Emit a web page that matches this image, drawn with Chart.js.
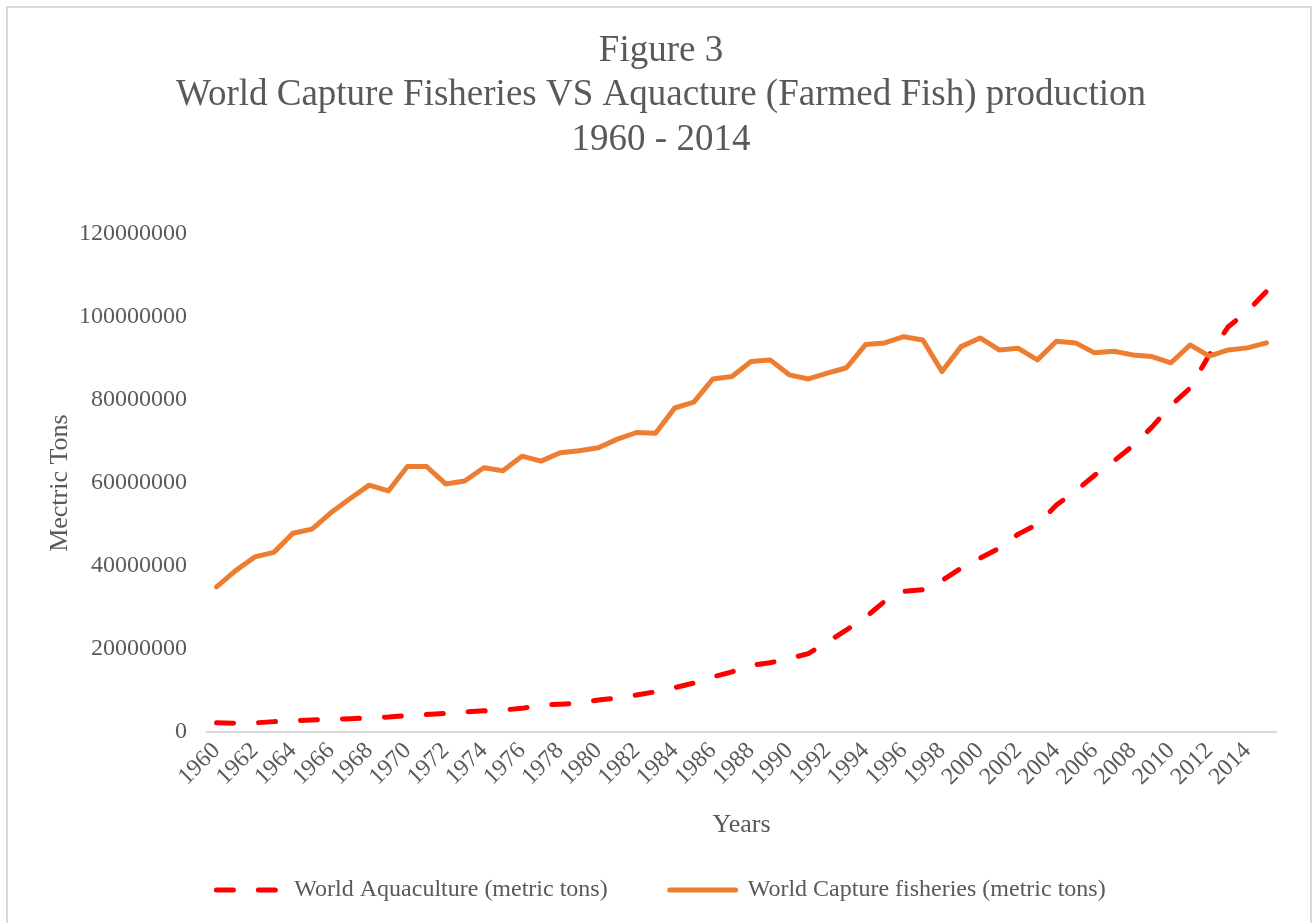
<!DOCTYPE html>
<html>
<head>
<meta charset="utf-8">
<title>World Capture Fisheries VS Aquacture</title>
<script src="https://cdn.jsdelivr.net/npm/chart.js@4.4.1/dist/chart.umd.min.js"></script>
<style>
  html, body { margin: 0; padding: 0; background: #fff; }
  #wrap { width: 1313px; height: 923px; position: relative; }
</style>
</head>
<body>
<div id="wrap"><canvas id="fishChart" width="1313" height="923"></canvas></div>
<script>
// === Datos ===
const years = ['1960','1961','1962','1963','1964','1965','1966','1967','1968','1969',
  '1970','1971','1972','1973','1974','1975','1976','1977','1978','1979',
  '1980','1981','1982','1983','1984','1985','1986','1987','1988','1989',
  '1990','1991','1992','1993','1994','1995','1996','1997','1998','1999',
  '2000','2001','2002','2003','2004','2005','2006','2007','2008','2009',
  '2010','2011','2012','2013','2014','2015'];

const aquaculture = [2200000, 2100000, 2200000, 2500000, 2700000, 2900000, 3100000, 3200000, 3400000, 3600000,
  4000000, 4200000, 4500000, 4800000, 5100000, 5300000, 5700000, 6500000, 6700000, 7000000,
  7700000, 8200000, 8900000, 9700000, 10700000, 11800000, 13300000, 14500000, 16100000, 16700000,
  17700000, 18900000, 21700000, 24600000, 27700000, 31500000, 33900000, 34300000, 36500000, 39500000,
  41900000, 44300000, 47700000, 50100000, 54700000, 58100000, 61900000, 65300000, 69000000, 73500000,
  78700000, 82900000, 90900000, 97700000, 101400000, 106200000];

const capture = [35000000, 38900000, 42200000, 43300000, 47900000, 48900000, 52900000, 56300000, 59500000, 58100000,
  64000000, 64000000, 59800000, 60500000, 63700000, 63000000, 66500000, 65300000, 67300000, 67800000,
  68500000, 70600000, 72200000, 72000000, 78100000, 79500000, 85100000, 85700000, 89300000, 89700000,
  86100000, 85100000, 86500000, 87800000, 93400000, 93800000, 95300000, 94500000, 86900000, 92900000,
  95000000, 92100000, 92500000, 89700000, 94200000, 93800000, 91400000, 91800000, 90900000, 90500000,
  89000000, 93300000, 90600000, 92100000, 92600000, 93800000];

const yTicks = [0, 20000000, 40000000, 60000000, 80000000, 100000000, 120000000];

const titleLines = ['Figure 3', 'World Capture Fisheries VS Aquacture (Farmed Fish) production', '1960 - 2014'];

const serif = "'Liberation Serif', 'Times New Roman', serif";
const grey = '#595959';

// === Marco del gráfico ===
const frame = {
  id: 'frame',
  beforeDraw(chart) {
    const c = chart.ctx;
    c.save();
    c.fillStyle = '#fff';
    c.fillRect(0, 0, chart.width, chart.height);
    c.strokeStyle = '#d9d9d9';
    c.lineWidth = 2;
    c.strokeRect(7, 7, 1304, 1000);
    c.restore();
  }
};

const ctx = document.getElementById('fishChart').getContext('2d');

new Chart(ctx, {
  type: 'line',
  data: {
    labels: years,
    datasets: [{
      label: 'World Aquaculture (metric tons)',
      data: aquaculture,
      borderColor: '#ff0000',
      backgroundColor: '#ff0000',
      borderWidth: 5,
      borderDash: [17, 25],
      borderCapStyle: 'round',
      borderJoinStyle: 'round',
      pointRadius: 0,
      tension: 0,
      order: 1
    }, {
      label: 'World Capture fisheries (metric tons)',
      data: capture,
      borderColor: '#ed7d31',
      backgroundColor: '#ed7d31',
      borderWidth: 5,
      borderCapStyle: 'round',
      borderJoinStyle: 'round',
      pointRadius: 0,
      tension: 0,
      order: 0
    }]
  },
  options: {
    responsive: false,
    animation: false,
    layout: { padding: { left: 46, right: 37, top: 0, bottom: 11 } },
    plugins: {
      title: {
        display: true,
        text: titleLines,
        color: grey,
        font: { family: serif, size: 37, weight: 'normal', lineHeight: 1.2 },
        padding: { top: 29, bottom: 72 }
      },
      legend: {
        position: 'bottom',
        labels: {
          color: grey,
          font: { family: serif, size: 24 },
          usePointStyle: true,
          pointStyle: 'line',
          pointStyleWidth: 66,
          boxHeight: 24,
          padding: 62,
          sort: (a, b) => a.datasetIndex - b.datasetIndex,
          // la muestra de línea usa el trazo del dataset (guiones incluidos)
          generateLabels: chart => Chart.defaults.plugins.legend.labels.generateLabels(chart).map(item => {
            const ds = chart.data.datasets[item.datasetIndex];
            item.lineDash = ds.borderDash || [];
            item.lineCap = 'round';
            item.lineWidth = 5;
            item.strokeStyle = ds.borderColor;
            return item;
          })
        }
      },
      tooltip: { enabled: false }
    },
    scales: {
      x: {
        offset: true,
        grid: { display: false, drawTicks: false },
        border: { display: true, color: '#d9d9d9', width: 2 },
        ticks: {
          color: grey,
          font: { family: serif, size: 24 },
          autoSkip: false,
          maxRotation: 45,
          minRotation: 45,
          padding: 5,
          callback: (v, i) => (i % 2 === 0 ? years[i] : '')
        },
        title: {
          display: true,
          text: 'Years',
          color: grey,
          font: { family: serif, size: 26 },
          padding: { top: 0, bottom: -25 }
        },
        afterFit: s => { s.height = 84; }
      },
      y: {
        min: 0,
        max: 120000000,
        grid: { display: false, drawTicks: false },
        border: { display: false },
        afterBuildTicks: s => { s.ticks = yTicks.map(v => ({ value: v })); },
        ticks: {
          color: grey,
          font: { family: serif, size: 24 },
          padding: 20,
          callback: v => String(v)
        },
        title: {
          display: true,
          text: 'Mectric Tons',
          color: grey,
          font: { family: serif, size: 26 },
          padding: { top: -1, bottom: 0 }
        },
        afterFit: s => { s.width = 161; }
      }
    }
  },
  plugins: [frame]
});
</script>
</body>
</html>
